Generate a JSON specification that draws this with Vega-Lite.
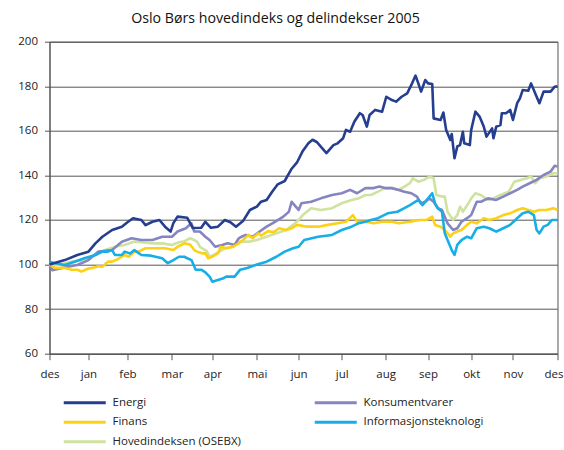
{
  "$schema": "https://vega.github.io/schema/vega-lite/v6.json",
  "width": 508,
  "height": 312,
  "autosize": {"type": "none"},
  "padding": {"left": 49.5, "top": 41.7, "right": 6.3, "bottom": 96.3},
  "background": "white",
  "title": {"text": "Oslo Børs hovedindeks og delindekser 2005", "font": "Open Sans", "fontSize": 14.2, "fontWeight": "normal", "color": "#111", "anchor": "middle", "dx": -28, "offset": 10},
  "config": {"view": {"stroke": "#555", "strokeWidth": 1}, "font": "Open Sans"},
  "data": {"values": [
    {"serie":"Hovedindeksen (OSEBX)","dag":0,"indeks":100},{"serie":"Hovedindeksen (OSEBX)","dag":6,"indeks":99.8},{"serie":"Hovedindeksen (OSEBX)","dag":16,"indeks":101.3},{"serie":"Hovedindeksen (OSEBX)","dag":25,"indeks":102},{"serie":"Hovedindeksen (OSEBX)","dag":33,"indeks":104.3},{"serie":"Hovedindeksen (OSEBX)","dag":40,"indeks":106.5},{"serie":"Hovedindeksen (OSEBX)","dag":47,"indeks":108},{"serie":"Hovedindeksen (OSEBX)","dag":54,"indeks":108.8},{"serie":"Hovedindeksen (OSEBX)","dag":61,"indeks":110.3},{"serie":"Hovedindeksen (OSEBX)","dag":66,"indeks":110},{"serie":"Hovedindeksen (OSEBX)","dag":74,"indeks":109.5},{"serie":"Hovedindeksen (OSEBX)","dag":81,"indeks":109.5},{"serie":"Hovedindeksen (OSEBX)","dag":88,"indeks":108.8},{"serie":"Hovedindeksen (OSEBX)","dag":93,"indeks":110},{"serie":"Hovedindeksen (OSEBX)","dag":97,"indeks":110.5},{"serie":"Hovedindeksen (OSEBX)","dag":101,"indeks":111.8},{"serie":"Hovedindeksen (OSEBX)","dag":104,"indeks":111},{"serie":"Hovedindeksen (OSEBX)","dag":106,"indeks":110.3},{"serie":"Hovedindeksen (OSEBX)","dag":108,"indeks":108},{"serie":"Hovedindeksen (OSEBX)","dag":113,"indeks":106},{"serie":"Hovedindeksen (OSEBX)","dag":115,"indeks":103.5},{"serie":"Hovedindeksen (OSEBX)","dag":118,"indeks":104.3},{"serie":"Hovedindeksen (OSEBX)","dag":122,"indeks":105.8},{"serie":"Hovedindeksen (OSEBX)","dag":126,"indeks":107.3},{"serie":"Hovedindeksen (OSEBX)","dag":132,"indeks":108},{"serie":"Hovedindeksen (OSEBX)","dag":137,"indeks":110.3},{"serie":"Hovedindeksen (OSEBX)","dag":144,"indeks":110.3},{"serie":"Hovedindeksen (OSEBX)","dag":149,"indeks":111},{"serie":"Hovedindeksen (OSEBX)","dag":156,"indeks":112.5},{"serie":"Hovedindeksen (OSEBX)","dag":163,"indeks":114},{"serie":"Hovedindeksen (OSEBX)","dag":170,"indeks":115.5},{"serie":"Hovedindeksen (OSEBX)","dag":175,"indeks":117.8},{"serie":"Hovedindeksen (OSEBX)","dag":179,"indeks":120},{"serie":"Hovedindeksen (OSEBX)","dag":182,"indeks":122.2},{"serie":"Hovedindeksen (OSEBX)","dag":188,"indeks":125.3},{"serie":"Hovedindeksen (OSEBX)","dag":195,"indeks":124.5},{"serie":"Hovedindeksen (OSEBX)","dag":203,"indeks":125.3},{"serie":"Hovedindeksen (OSEBX)","dag":210,"indeks":127.5},{"serie":"Hovedindeksen (OSEBX)","dag":217,"indeks":129},{"serie":"Hovedindeksen (OSEBX)","dag":222,"indeks":129.7},{"serie":"Hovedindeksen (OSEBX)","dag":227,"indeks":131.2},{"serie":"Hovedindeksen (OSEBX)","dag":231,"indeks":131.2},{"serie":"Hovedindeksen (OSEBX)","dag":236,"indeks":132.7},{"serie":"Hovedindeksen (OSEBX)","dag":241,"indeks":134.3},{"serie":"Hovedindeksen (OSEBX)","dag":246,"indeks":134.3},{"serie":"Hovedindeksen (OSEBX)","dag":251,"indeks":133.5},{"serie":"Hovedindeksen (OSEBX)","dag":255,"indeks":135},{"serie":"Hovedindeksen (OSEBX)","dag":259,"indeks":136.5},{"serie":"Hovedindeksen (OSEBX)","dag":261,"indeks":138.7},{"serie":"Hovedindeksen (OSEBX)","dag":265,"indeks":137.2},{"serie":"Hovedindeksen (OSEBX)","dag":269,"indeks":138},{"serie":"Hovedindeksen (OSEBX)","dag":273,"indeks":139.5},{"serie":"Hovedindeksen (OSEBX)","dag":276,"indeks":138.7},{"serie":"Hovedindeksen (OSEBX)","dag":278,"indeks":131.2},{"serie":"Hovedindeksen (OSEBX)","dag":282,"indeks":130.5},{"serie":"Hovedindeksen (OSEBX)","dag":284,"indeks":130.5},{"serie":"Hovedindeksen (OSEBX)","dag":286,"indeks":123.7},{"serie":"Hovedindeksen (OSEBX)","dag":290,"indeks":120},{"serie":"Hovedindeksen (OSEBX)","dag":293,"indeks":122.2},{"serie":"Hovedindeksen (OSEBX)","dag":295,"indeks":126},{"serie":"Hovedindeksen (OSEBX)","dag":297,"indeks":123.7},{"serie":"Hovedindeksen (OSEBX)","dag":301,"indeks":127.5},{"serie":"Hovedindeksen (OSEBX)","dag":303,"indeks":129.7},{"serie":"Hovedindeksen (OSEBX)","dag":306,"indeks":132},{"serie":"Hovedindeksen (OSEBX)","dag":310,"indeks":131.2},{"serie":"Hovedindeksen (OSEBX)","dag":315,"indeks":129},{"serie":"Hovedindeksen (OSEBX)","dag":319,"indeks":129.7},{"serie":"Hovedindeksen (OSEBX)","dag":324,"indeks":131.2},{"serie":"Hovedindeksen (OSEBX)","dag":330,"indeks":132.7},{"serie":"Hovedindeksen (OSEBX)","dag":334,"indeks":137.2},{"serie":"Hovedindeksen (OSEBX)","dag":339,"indeks":138},{"serie":"Hovedindeksen (OSEBX)","dag":343,"indeks":138.7},{"serie":"Hovedindeksen (OSEBX)","dag":346,"indeks":139.5},{"serie":"Hovedindeksen (OSEBX)","dag":349,"indeks":136.5},{"serie":"Hovedindeksen (OSEBX)","dag":352,"indeks":138.7},{"serie":"Hovedindeksen (OSEBX)","dag":357,"indeks":139.5},{"serie":"Hovedindeksen (OSEBX)","dag":362,"indeks":141},{"serie":"Hovedindeksen (OSEBX)","dag":365,"indeks":141},

    {"serie":"Konsumentvarer","dag":0,"indeks":100},{"serie":"Konsumentvarer","dag":2,"indeks":97.5},{"serie":"Konsumentvarer","dag":13,"indeks":99},{"serie":"Konsumentvarer","dag":20,"indeks":99.8},{"serie":"Konsumentvarer","dag":28,"indeks":102},{"serie":"Konsumentvarer","dag":35,"indeks":105.8},{"serie":"Konsumentvarer","dag":45,"indeks":106.5},{"serie":"Konsumentvarer","dag":52,"indeks":110.2},{"serie":"Konsumentvarer","dag":59,"indeks":111.8},{"serie":"Konsumentvarer","dag":66,"indeks":111},{"serie":"Konsumentvarer","dag":74,"indeks":111},{"serie":"Konsumentvarer","dag":81,"indeks":112.5},{"serie":"Konsumentvarer","dag":88,"indeks":112.5},{"serie":"Konsumentvarer","dag":92,"indeks":114.8},{"serie":"Konsumentvarer","dag":98,"indeks":116.3},{"serie":"Konsumentvarer","dag":102,"indeks":118.5},{"serie":"Konsumentvarer","dag":104,"indeks":114.8},{"serie":"Konsumentvarer","dag":108,"indeks":114.8},{"serie":"Konsumentvarer","dag":112,"indeks":112.5},{"serie":"Konsumentvarer","dag":115,"indeks":111},{"serie":"Konsumentvarer","dag":119,"indeks":108},{"serie":"Konsumentvarer","dag":124,"indeks":108.8},{"serie":"Konsumentvarer","dag":128,"indeks":109.6},{"serie":"Konsumentvarer","dag":133,"indeks":108.8},{"serie":"Konsumentvarer","dag":136,"indeks":111.8},{"serie":"Konsumentvarer","dag":138,"indeks":112.5},{"serie":"Konsumentvarer","dag":141,"indeks":113.3},{"serie":"Konsumentvarer","dag":146,"indeks":112.5},{"serie":"Konsumentvarer","dag":151,"indeks":114.8},{"serie":"Konsumentvarer","dag":156,"indeks":117},{"serie":"Konsumentvarer","dag":162,"indeks":119.2},{"serie":"Konsumentvarer","dag":168,"indeks":121.5},{"serie":"Konsumentvarer","dag":172,"indeks":123.7},{"serie":"Konsumentvarer","dag":174,"indeks":128.2},{"serie":"Konsumentvarer","dag":176,"indeks":126.7},{"serie":"Konsumentvarer","dag":179,"indeks":124.5},{"serie":"Konsumentvarer","dag":181,"indeks":127.5},{"serie":"Konsumentvarer","dag":188,"indeks":128.2},{"serie":"Konsumentvarer","dag":195,"indeks":129.7},{"serie":"Konsumentvarer","dag":203,"indeks":131.2},{"serie":"Konsumentvarer","dag":210,"indeks":132},{"serie":"Konsumentvarer","dag":216,"indeks":133.5},{"serie":"Konsumentvarer","dag":221,"indeks":132},{"serie":"Konsumentvarer","dag":227,"indeks":134.3},{"serie":"Konsumentvarer","dag":233,"indeks":134.3},{"serie":"Konsumentvarer","dag":237,"indeks":135},{"serie":"Konsumentvarer","dag":241,"indeks":134.3},{"serie":"Konsumentvarer","dag":246,"indeks":134.3},{"serie":"Konsumentvarer","dag":251,"indeks":133.5},{"serie":"Konsumentvarer","dag":255,"indeks":132.7},{"serie":"Konsumentvarer","dag":260,"indeks":132},{"serie":"Konsumentvarer","dag":264,"indeks":130.5},{"serie":"Konsumentvarer","dag":267,"indeks":127.5},{"serie":"Konsumentvarer","dag":270,"indeks":128.2},{"serie":"Konsumentvarer","dag":273,"indeks":129.7},{"serie":"Konsumentvarer","dag":276,"indeks":128.2},{"serie":"Konsumentvarer","dag":279,"indeks":125.3},{"serie":"Konsumentvarer","dag":282,"indeks":124.5},{"serie":"Konsumentvarer","dag":284,"indeks":121.5},{"serie":"Konsumentvarer","dag":286,"indeks":118.5},{"serie":"Konsumentvarer","dag":290,"indeks":115.5},{"serie":"Konsumentvarer","dag":293,"indeks":116.3},{"serie":"Konsumentvarer","dag":296,"indeks":119.2},{"serie":"Konsumentvarer","dag":300,"indeks":120.8},{"serie":"Konsumentvarer","dag":303,"indeks":122.2},{"serie":"Konsumentvarer","dag":307,"indeks":128.2},{"serie":"Konsumentvarer","dag":310,"indeks":128.2},{"serie":"Konsumentvarer","dag":315,"indeks":129.7},{"serie":"Konsumentvarer","dag":321,"indeks":129},{"serie":"Konsumentvarer","dag":326,"indeks":130.5},{"serie":"Konsumentvarer","dag":331,"indeks":132},{"serie":"Konsumentvarer","dag":336,"indeks":133.5},{"serie":"Konsumentvarer","dag":340,"indeks":135},{"serie":"Konsumentvarer","dag":345,"indeks":136.5},{"serie":"Konsumentvarer","dag":350,"indeks":138},{"serie":"Konsumentvarer","dag":355,"indeks":140.2},{"serie":"Konsumentvarer","dag":360,"indeks":141.7},{"serie":"Konsumentvarer","dag":363,"indeks":144.3},{"serie":"Konsumentvarer","dag":365,"indeks":144},

    {"serie":"Finans","dag":0,"indeks":100},{"serie":"Finans","dag":4,"indeks":98.5},{"serie":"Finans","dag":11,"indeks":98.5},{"serie":"Finans","dag":16,"indeks":97.7},{"serie":"Finans","dag":20,"indeks":97.7},{"serie":"Finans","dag":23,"indeks":96.9},{"serie":"Finans","dag":28,"indeks":98.2},{"serie":"Finans","dag":31,"indeks":98.5},{"serie":"Finans","dag":35,"indeks":99.2},{"serie":"Finans","dag":38,"indeks":99},{"serie":"Finans","dag":42,"indeks":101.3},{"serie":"Finans","dag":45,"indeks":101.3},{"serie":"Finans","dag":49,"indeks":102.4},{"serie":"Finans","dag":54,"indeks":104.3},{"serie":"Finans","dag":57,"indeks":103.5},{"serie":"Finans","dag":61,"indeks":105.8},{"serie":"Finans","dag":64,"indeks":105.8},{"serie":"Finans","dag":69,"indeks":107.3},{"serie":"Finans","dag":76,"indeks":107.3},{"serie":"Finans","dag":83,"indeks":107.3},{"serie":"Finans","dag":89,"indeks":106.5},{"serie":"Finans","dag":92,"indeks":108},{"serie":"Finans","dag":97,"indeks":109.5},{"serie":"Finans","dag":101,"indeks":109},{"serie":"Finans","dag":104,"indeks":106.5},{"serie":"Finans","dag":106,"indeks":105.8},{"serie":"Finans","dag":110,"indeks":105},{"serie":"Finans","dag":112,"indeks":105},{"serie":"Finans","dag":114,"indeks":102.8},{"serie":"Finans","dag":117,"indeks":103.5},{"serie":"Finans","dag":121,"indeks":105},{"serie":"Finans","dag":123,"indeks":108},{"serie":"Finans","dag":127,"indeks":107.3},{"serie":"Finans","dag":132,"indeks":108},{"serie":"Finans","dag":136,"indeks":109.5},{"serie":"Finans","dag":139,"indeks":111},{"serie":"Finans","dag":143,"indeks":113.3},{"serie":"Finans","dag":146,"indeks":111.8},{"serie":"Finans","dag":150,"indeks":114},{"serie":"Finans","dag":152,"indeks":113},{"serie":"Finans","dag":157,"indeks":115},{"serie":"Finans","dag":161,"indeks":114.5},{"serie":"Finans","dag":165,"indeks":116.3},{"serie":"Finans","dag":170,"indeks":115.5},{"serie":"Finans","dag":174,"indeks":116.3},{"serie":"Finans","dag":178,"indeks":117.8},{"serie":"Finans","dag":185,"indeks":117},{"serie":"Finans","dag":193,"indeks":117},{"serie":"Finans","dag":200,"indeks":117.8},{"serie":"Finans","dag":207,"indeks":118.5},{"serie":"Finans","dag":213,"indeks":119.2},{"serie":"Finans","dag":218,"indeks":122.2},{"serie":"Finans","dag":221,"indeks":119.2},{"serie":"Finans","dag":227,"indeks":119.2},{"serie":"Finans","dag":233,"indeks":118.5},{"serie":"Finans","dag":239,"indeks":119.2},{"serie":"Finans","dag":246,"indeks":119.2},{"serie":"Finans","dag":251,"indeks":118.5},{"serie":"Finans","dag":259,"indeks":119.2},{"serie":"Finans","dag":266,"indeks":120},{"serie":"Finans","dag":271,"indeks":120},{"serie":"Finans","dag":275,"indeks":121.5},{"serie":"Finans","dag":277,"indeks":117.8},{"serie":"Finans","dag":281,"indeks":117},{"serie":"Finans","dag":284,"indeks":115.5},{"serie":"Finans","dag":288,"indeks":112.5},{"serie":"Finans","dag":290,"indeks":114},{"serie":"Finans","dag":293,"indeks":114.8},{"serie":"Finans","dag":296,"indeks":115.5},{"serie":"Finans","dag":300,"indeks":117.8},{"serie":"Finans","dag":303,"indeks":119.2},{"serie":"Finans","dag":307,"indeks":118.5},{"serie":"Finans","dag":312,"indeks":120.8},{"serie":"Finans","dag":316,"indeks":120},{"serie":"Finans","dag":321,"indeks":120.8},{"serie":"Finans","dag":326,"indeks":122.2},{"serie":"Finans","dag":331,"indeks":123},{"serie":"Finans","dag":336,"indeks":124.5},{"serie":"Finans","dag":340,"indeks":125.3},{"serie":"Finans","dag":344,"indeks":124.5},{"serie":"Finans","dag":348,"indeks":123.7},{"serie":"Finans","dag":352,"indeks":124.5},{"serie":"Finans","dag":357,"indeks":124.5},{"serie":"Finans","dag":362,"indeks":125.3},{"serie":"Finans","dag":365,"indeks":124.5},

    {"serie":"Informasjonsteknologi","dag":0,"indeks":101.3},{"serie":"Informasjonsteknologi","dag":4,"indeks":100.6},{"serie":"Informasjonsteknologi","dag":11,"indeks":99.8},{"serie":"Informasjonsteknologi","dag":18,"indeks":101.3},{"serie":"Informasjonsteknologi","dag":25,"indeks":102.8},{"serie":"Informasjonsteknologi","dag":33,"indeks":104.3},{"serie":"Informasjonsteknologi","dag":38,"indeks":105.8},{"serie":"Informasjonsteknologi","dag":42,"indeks":105.8},{"serie":"Informasjonsteknologi","dag":45,"indeks":106.5},{"serie":"Informasjonsteknologi","dag":47,"indeks":104.3},{"serie":"Informasjonsteknologi","dag":52,"indeks":104.3},{"serie":"Informasjonsteknologi","dag":54,"indeks":105.8},{"serie":"Informasjonsteknologi","dag":58,"indeks":105},{"serie":"Informasjonsteknologi","dag":61,"indeks":106.5},{"serie":"Informasjonsteknologi","dag":66,"indeks":104.3},{"serie":"Informasjonsteknologi","dag":73,"indeks":104},{"serie":"Informasjonsteknologi","dag":81,"indeks":102.8},{"serie":"Informasjonsteknologi","dag":85,"indeks":100.6},{"serie":"Informasjonsteknologi","dag":89,"indeks":102},{"serie":"Informasjonsteknologi","dag":93,"indeks":103.5},{"serie":"Informasjonsteknologi","dag":97,"indeks":103.5},{"serie":"Informasjonsteknologi","dag":99,"indeks":102.8},{"serie":"Informasjonsteknologi","dag":102,"indeks":102},{"serie":"Informasjonsteknologi","dag":105,"indeks":97.7},{"serie":"Informasjonsteknologi","dag":109,"indeks":97.7},{"serie":"Informasjonsteknologi","dag":112,"indeks":96.5},{"serie":"Informasjonsteknologi","dag":115,"indeks":94.6},{"serie":"Informasjonsteknologi","dag":117,"indeks":92.3},{"serie":"Informasjonsteknologi","dag":121,"indeks":93.1},{"serie":"Informasjonsteknologi","dag":125,"indeks":93.9},{"serie":"Informasjonsteknologi","dag":127,"indeks":94.6},{"serie":"Informasjonsteknologi","dag":133,"indeks":94.6},{"serie":"Informasjonsteknologi","dag":137,"indeks":97.7},{"serie":"Informasjonsteknologi","dag":142,"indeks":98.5},{"serie":"Informasjonsteknologi","dag":149,"indeks":100},{"serie":"Informasjonsteknologi","dag":156,"indeks":101.3},{"serie":"Informasjonsteknologi","dag":163,"indeks":103.5},{"serie":"Informasjonsteknologi","dag":169,"indeks":105.8},{"serie":"Informasjonsteknologi","dag":175,"indeks":107.3},{"serie":"Informasjonsteknologi","dag":179,"indeks":108},{"serie":"Informasjonsteknologi","dag":183,"indeks":111},{"serie":"Informasjonsteknologi","dag":193,"indeks":112.5},{"serie":"Informasjonsteknologi","dag":203,"indeks":113.3},{"serie":"Informasjonsteknologi","dag":210,"indeks":115.5},{"serie":"Informasjonsteknologi","dag":217,"indeks":117},{"serie":"Informasjonsteknologi","dag":222,"indeks":118.5},{"serie":"Informasjonsteknologi","dag":227,"indeks":119.2},{"serie":"Informasjonsteknologi","dag":231,"indeks":120},{"serie":"Informasjonsteknologi","dag":236,"indeks":120.8},{"serie":"Informasjonsteknologi","dag":243,"indeks":123},{"serie":"Informasjonsteknologi","dag":250,"indeks":123.7},{"serie":"Informasjonsteknologi","dag":255,"indeks":125.3},{"serie":"Informasjonsteknologi","dag":259,"indeks":126.7},{"serie":"Informasjonsteknologi","dag":261,"indeks":127.5},{"serie":"Informasjonsteknologi","dag":265,"indeks":129},{"serie":"Informasjonsteknologi","dag":268,"indeks":126.7},{"serie":"Informasjonsteknologi","dag":272,"indeks":129.7},{"serie":"Informasjonsteknologi","dag":275,"indeks":132},{"serie":"Informasjonsteknologi","dag":277,"indeks":127.5},{"serie":"Informasjonsteknologi","dag":279,"indeks":125.3},{"serie":"Informasjonsteknologi","dag":282,"indeks":123.7},{"serie":"Informasjonsteknologi","dag":284,"indeks":114},{"serie":"Informasjonsteknologi","dag":286,"indeks":111},{"serie":"Informasjonsteknologi","dag":289,"indeks":106.5},{"serie":"Informasjonsteknologi","dag":291,"indeks":104.3},{"serie":"Informasjonsteknologi","dag":293,"indeks":108.8},{"serie":"Informasjonsteknologi","dag":296,"indeks":111},{"serie":"Informasjonsteknologi","dag":300,"indeks":112.5},{"serie":"Informasjonsteknologi","dag":303,"indeks":111.8},{"serie":"Informasjonsteknologi","dag":307,"indeks":116.3},{"serie":"Informasjonsteknologi","dag":312,"indeks":117},{"serie":"Informasjonsteknologi","dag":316,"indeks":116.3},{"serie":"Informasjonsteknologi","dag":321,"indeks":114.8},{"serie":"Informasjonsteknologi","dag":326,"indeks":116.3},{"serie":"Informasjonsteknologi","dag":331,"indeks":117.8},{"serie":"Informasjonsteknologi","dag":336,"indeks":120.8},{"serie":"Informasjonsteknologi","dag":340,"indeks":123},{"serie":"Informasjonsteknologi","dag":344,"indeks":123.7},{"serie":"Informasjonsteknologi","dag":348,"indeks":122.2},{"serie":"Informasjonsteknologi","dag":350,"indeks":115.5},{"serie":"Informasjonsteknologi","dag":352,"indeks":114},{"serie":"Informasjonsteknologi","dag":355,"indeks":117},{"serie":"Informasjonsteknologi","dag":358,"indeks":117.8},{"serie":"Informasjonsteknologi","dag":361,"indeks":120},{"serie":"Informasjonsteknologi","dag":365,"indeks":120},

    {"serie":"Energi","dag":0,"indeks":100},{"serie":"Energi","dag":11,"indeks":102},{"serie":"Energi","dag":20,"indeks":104.3},{"serie":"Energi","dag":28,"indeks":105.8},{"serie":"Energi","dag":33,"indeks":109.5},{"serie":"Energi","dag":38,"indeks":112.5},{"serie":"Energi","dag":45,"indeks":115.5},{"serie":"Energi","dag":52,"indeks":117},{"serie":"Energi","dag":56,"indeks":119},{"serie":"Energi","dag":60,"indeks":120.8},{"serie":"Energi","dag":66,"indeks":120},{"serie":"Energi","dag":69,"indeks":117.7},{"serie":"Energi","dag":74,"indeks":119.2},{"serie":"Energi","dag":79,"indeks":120},{"serie":"Energi","dag":83,"indeks":117},{"serie":"Energi","dag":87,"indeks":114.8},{"serie":"Energi","dag":89,"indeks":118.6},{"serie":"Energi","dag":92,"indeks":121.5},{"serie":"Energi","dag":99,"indeks":121},{"serie":"Energi","dag":103,"indeks":116.4},{"serie":"Energi","dag":109,"indeks":116.5},{"serie":"Energi","dag":112,"indeks":119.2},{"serie":"Energi","dag":116,"indeks":116.5},{"serie":"Energi","dag":121,"indeks":117},{"serie":"Energi","dag":126,"indeks":120},{"serie":"Energi","dag":130,"indeks":119},{"serie":"Energi","dag":134,"indeks":117},{"serie":"Energi","dag":139,"indeks":119.5},{"serie":"Energi","dag":144,"indeks":124.5},{"serie":"Energi","dag":149,"indeks":126},{"serie":"Energi","dag":152,"indeks":128.2},{"serie":"Energi","dag":156,"indeks":129},{"serie":"Energi","dag":160,"indeks":132.7},{"serie":"Energi","dag":164,"indeks":136},{"serie":"Energi","dag":169,"indeks":137.5},{"serie":"Energi","dag":174,"indeks":143},{"serie":"Energi","dag":178,"indeks":146},{"serie":"Energi","dag":182,"indeks":151},{"serie":"Energi","dag":186,"indeks":154.4},{"serie":"Energi","dag":189,"indeks":156},{"serie":"Energi","dag":192,"indeks":155},{"serie":"Energi","dag":194,"indeks":153.6},{"serie":"Energi","dag":199,"indeks":150},{"serie":"Energi","dag":204,"indeks":153.6},{"serie":"Energi","dag":207,"indeks":154.4},{"serie":"Energi","dag":211,"indeks":156.7},{"serie":"Energi","dag":213,"indeks":160.4},{"serie":"Energi","dag":216,"indeks":159.6},{"serie":"Energi","dag":219,"indeks":164.1},{"serie":"Energi","dag":223,"indeks":167.9},{"serie":"Energi","dag":225,"indeks":167.1},{"serie":"Energi","dag":228,"indeks":161.9},{"serie":"Energi","dag":230,"indeks":167.1},{"serie":"Energi","dag":234,"indeks":169.4},{"serie":"Energi","dag":239,"indeks":168.6},{"serie":"Energi","dag":242,"indeks":175.3},{"serie":"Energi","dag":246,"indeks":173.8},{"serie":"Energi","dag":249,"indeks":173.1},{"serie":"Energi","dag":253,"indeks":175.3},{"serie":"Energi","dag":257,"indeks":176.8},{"serie":"Energi","dag":260,"indeks":180.6},{"serie":"Energi","dag":263,"indeks":184.8},{"serie":"Energi","dag":265,"indeks":181.3},{"serie":"Energi","dag":267,"indeks":177.6},{"serie":"Energi","dag":270,"indeks":182.8},{"serie":"Energi","dag":272,"indeks":181.3},{"serie":"Energi","dag":275,"indeks":181},{"serie":"Energi","dag":276,"indeks":165.6},{"serie":"Energi","dag":281,"indeks":164.9},{"serie":"Energi","dag":283,"indeks":168.2},{"serie":"Energi","dag":285,"indeks":160.4},{"serie":"Energi","dag":288,"indeks":155.9},{"serie":"Energi","dag":289,"indeks":158.6},{"serie":"Energi","dag":291,"indeks":147.7},{"serie":"Energi","dag":293,"indeks":153},{"serie":"Energi","dag":295,"indeks":153.6},{"serie":"Energi","dag":297,"indeks":159.6},{"serie":"Energi","dag":298,"indeks":154.4},{"serie":"Energi","dag":302,"indeks":153.6},{"serie":"Energi","dag":303,"indeks":160.4},{"serie":"Energi","dag":306,"indeks":168.6},{"serie":"Energi","dag":309,"indeks":166.4},{"serie":"Energi","dag":312,"indeks":161.9},{"serie":"Energi","dag":314,"indeks":157.4},{"serie":"Energi","dag":318,"indeks":161.1},{"serie":"Energi","dag":319,"indeks":156.7},{"serie":"Energi","dag":321,"indeks":161.9},{"serie":"Energi","dag":324,"indeks":162.6},{"serie":"Energi","dag":325,"indeks":167.9},{"serie":"Energi","dag":328,"indeks":167.9},{"serie":"Energi","dag":331,"indeks":169.4},{"serie":"Energi","dag":333,"indeks":164.9},{"serie":"Energi","dag":336,"indeks":172.4},{"serie":"Energi","dag":338,"indeks":174.6},{"serie":"Energi","dag":340,"indeks":178.3},{"serie":"Energi","dag":344,"indeks":178},{"serie":"Energi","dag":346,"indeks":181.3},{"serie":"Energi","dag":350,"indeks":175.3},{"serie":"Energi","dag":352,"indeks":172.4},{"serie":"Energi","dag":355,"indeks":177.6},{"serie":"Energi","dag":360,"indeks":177.6},{"serie":"Energi","dag":363,"indeks":179.8},{"serie":"Energi","dag":365,"indeks":180}
  ]},
  "mark": {"type": "line", "strokeWidth": 2.6, "strokeJoin": "round"},
  "encoding": {
    "x": {
      "field": "dag", "type": "quantitative",
      "scale": {"domain": [0, 365], "nice": false, "zero": false},
      "axis": {
        "title": null, "grid": false,
        "values": [0, 28, 56, 88, 117, 149, 179, 210, 241.5, 272, 303, 333, 365],
        "labelExpr": "['des','jan','feb','mar','apr','mai','jun','jul','aug','sep','okt','nov','des'][indexof([0,28,56,88,117,149,179,210,241.5,272,303,333,365], datum.value)]",
        "tickSize": 6, "tickColor": "#555", "domainColor": "#555",
        "labelFont": "Open Sans", "labelFontSize": 11.5, "labelColor": "#222", "labelPadding": 9,
        "labelFlush": false, "labelOverlap": false,
        "labelOffset": {"condition": {"test": "datum.value == 365", "value": -4}, "value": 0}
      }
    },
    "y": {
      "field": "indeks", "type": "quantitative",
      "scale": {"domain": [60, 200], "nice": false, "zero": false},
      "axis": {
        "title": null, "values": [60, 80, 100, 120, 140, 160, 180, 200],
        "grid": true, "gridColor": "#555", "gridWidth": 1,
        "tickSize": 5, "tickColor": "#555", "domainColor": "#555",
        "labelFont": "Open Sans", "labelFontSize": 11.5, "labelColor": "#222", "labelPadding": 7
      }
    },
    "color": {
      "field": "serie", "type": "nominal",
      "scale": {
        "domain": ["Energi", "Finans", "Hovedindeksen (OSEBX)", "Konsumentvarer", "Informasjonsteknologi"],
        "range": ["#253e8f", "#fcd116", "#cfe2a0", "#8585c2", "#17aee8"]
      },
      "legend": {
        "title": null, "orient": "none", "legendX": 28.25, "legendY": 354,
        "columns": 2, "symbolType": "M-4,0H4", "symbolSize": 110.25, "symbolStrokeWidth": 3,
        "labelFont": "Open Sans", "labelFontSize": 11.5, "labelColor": "#222", "labelOffset": 20.75,
        "columnPadding": 67, "rowPadding": 6.5
      }
    },
    "order": {"field": "dag", "type": "quantitative"}
  }
}
